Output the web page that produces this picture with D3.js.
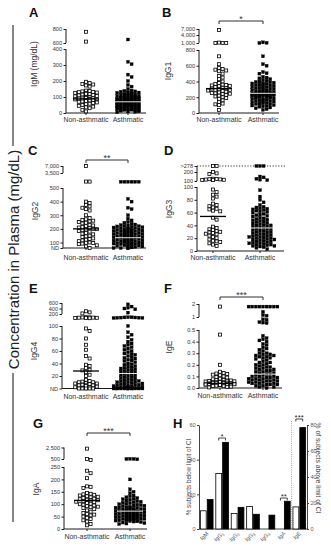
<!DOCTYPE html>
<html><head><meta charset="utf-8">
<script src="https://cdn.jsdelivr.net/npm/d3@7"></script>
<style>body{margin:0;background:#fff}svg{display:block;font-family:"Liberation Sans",Arial,sans-serif}</style>
</head><body><svg id="c" width="331" height="550"></svg>
<script>
const groups = ["Non-asthmatic", "Asthmatic"];

// A: IgM
const igmNon = [760,620,195,188,182,178,172,165,140,138,135,132,130,128,126,124,120,118,115,112,110,106,104,100,98,96,94,92,90,88,86,85,84,82,80,78,75,72,70,66,62,58,55,50,45,40,35,30,20,10];
const igmAst = [650,320,305,240,225,200,175,165,150,140,138,135,133,130,128,126,124,122,120,118,116,114,112,110,108,106,105,104,102,100,98,97,96,95,94,92,90,89,88,86,85,84,82,81,80,78,77,76,75,74,72,71,70,69,68,67,66,65,64,62,61,60,59,58,56,55,54,52,51,50,48,47,46,45,44,42,40,39,38,36,35,34,32,30,29,28,26,25,24,22,20,19,18,16,15,14,12,10,8,5];
const igmMed = [88, 70];
const igmTicksLow = [0,100,200,300,400], igmTicksHigh = [600,800];

// B: IgG1
const igg1Non = [6500,1150,1050,1000,980,720,620,570,560,550,540,530,500,470,450,430,400,380,370,360,355,350,345,340,330,320,315,310,300,295,290,285,280,270,260,255,250,245,240,230,220,210,200,190,180,160,140,120,110,100,40];
const igg1Ast = [1250,1050,1000,720,620,600,520,505,500,460,450,440,430,420,410,400,395,390,385,380,375,370,365,360,355,350,345,340,335,330,325,320,315,310,305,300,295,290,285,280,275,270,265,260,258,255,252,250,248,245,242,240,238,235,232,230,228,225,222,220,218,215,212,210,205,200,198,195,190,185,180,175,170,165,160,155,150,145,140,135,130,125,120,115,110,100,95,90,85,80,70,60,50,40];
const igg1Med = [310, 250];
const igg1TicksLow = [0,200,400,600,800], igg1TicksHigh = [1000,4000,7000];
const igg1Sig = "*";

// C: IgG2 (0 = ND)
const igg2Non = [7000,1500,1500,400,390,375,365,355,345,335,300,280,270,265,260,255,250,245,240,230,225,220,215,210,205,200,198,195,190,185,180,170,165,160,150,145,140,130,125,120,115,110,100,95,90,80,70,50,30,0];
const igg2Ast = [1450,1450,1450,1450,1450,1450,420,400,355,345,300,275,262,250,245,238,232,228,225,222,220,218,215,212,210,208,205,202,200,198,196,194,192,190,188,186,184,182,180,178,176,174,172,170,168,166,164,162,160,158,156,154,152,150,148,146,144,142,140,138,136,134,132,130,128,126,124,122,120,118,116,114,112,110,108,106,104,102,100,95,90,85,80,75,70,65,60,55,50,45,40,30,20,10,0,0,0,0];
const igg2Med = [200, 135];
const igg2TicksLow = [0,100,200,300,400,500], igg2TicksHigh = [3500,7000];
const igg2Sig = "**";

// D: IgG3 (278 = >278)
const igg3Non = [278,278,200,185,178,125,122,120,118,116,114,112,110,96,92,88,85,82,74,72,70,68,66,65,63,62,52,49,38,36,34,33,31,30,29,28,27,26,24,22,20,18,16,15,14,12,10,8];
const igg3Ast = [278,278,278,150,140,125,115,110,95,85,80,76,72,69,68,67,66,65,64,63,62,61,60,58,57,56,55,54,52,51,50,49,48,47,46,45,44,43,42,41,40,40,39,38,37,36,35,35,34,33,32,31,30,30,29,28,27,26,25,25,24,23,22,22,21,20,20,19,18,18,17,16,15,15,14,13,12,12,11,10,10,9,8,8,7,6,5,3];
const igg3Med = [54, 36];
const igg3TicksLow = [0,20,40,60,80,100], igg3TicksHigh = [100,200,278];

// E: IgG4 (0 = ND)
const igg4Non = [300,260,220,168,166,165,164,163,162,161,160,158,96,92,80,70,62,52,48,38,36,33,30,29,26,22,20,14,12,11,10,10,9,8,8,7,6,6,5,5,4,3,2,2,1,0,0,0,0,0];
const igg4Ast = [550,470,430,400,370,250,168,167,166,165,164,163,162,161,160,100,90,86,82,78,75,72,70,68,66,64,62,60,58,56,55,54,52,50,49,48,46,45,44,42,40,39,38,36,35,34,33,32,31,30,29,28,27,26,25,24,23,22,21,20,19,18,17,16,15,14,13,12,12,11,10,10,9,8,8,7,6,6,5,5,4,4,3,3,2,2,1,1,0,0,0,0,0,0,0,0,0,0,0,0];
const igg4Med = [28, 24];
const igg4TicksLow = [0,20,40,60,80,100], igg4TicksHigh = [200,400,600];

// F: IgE
const igeNon = [1.8,0.46,0.2,0.14,0.13,0.125,0.12,0.115,0.11,0.1,0.095,0.09,0.08,0.075,0.07,0.068,0.065,0.062,0.06,0.058,0.056,0.054,0.052,0.05,0.05,0.048,0.046,0.045,0.044,0.042,0.04,0.04,0.038,0.036,0.035,0.034,0.032,0.03,0.03,0.028,0.026,0.025,0.022,0.02,0.018,0.015,0.012,0.01,0.005];
const igeAst = [1.8,1.8,1.8,1.8,1.8,1.8,1.8,1.8,1.8,1.4,1.15,1.1,0.9,0.88,0.78,0.76,0.74,0.45,0.43,0.42,0.41,0.4,0.38,0.37,0.35,0.34,0.33,0.32,0.3,0.3,0.29,0.29,0.28,0.28,0.27,0.27,0.26,0.26,0.25,0.24,0.23,0.22,0.22,0.21,0.2,0.2,0.19,0.18,0.18,0.17,0.17,0.16,0.16,0.15,0.15,0.14,0.14,0.13,0.13,0.12,0.12,0.11,0.11,0.1,0.1,0.1,0.09,0.09,0.09,0.08,0.08,0.08,0.07,0.07,0.07,0.06,0.06,0.06,0.05,0.05,0.05,0.04,0.04,0.04,0.03,0.03,0.03,0.02,0.02,0.01,0.01,0.0];
const igeMed = [0.04, 0.12];
const igeTicksLow = [0,0.1,0.2,0.3,0.4,0.5], igeTicksHigh = [1,2];
const igeSig = "***";

// G: IgA
const igaNon = [2300,520,470,235,225,205,172,170,165,145,142,140,138,135,132,130,128,125,122,120,118,116,115,112,110,108,105,102,100,98,95,92,90,88,85,80,75,70,65,60,58,55,50,45,40,35,30,20,15];
const igaAst = [530,510,500,490,200,160,150,145,135,132,128,125,122,120,118,115,112,110,108,106,104,102,100,98,96,95,94,92,90,88,87,86,85,84,82,81,80,79,78,77,76,75,74,73,72,71,70,69,68,67,66,65,64,63,62,61,60,59,58,57,56,55,54,53,52,51,50,49,48,47,46,45,44,43,42,41,40,39,38,37,36,35,34,33,32,31,30,28,26,24,22,20];
const igaMed = [115, 72];
const igaTicksLow = [0,50,100,150,200,250], igaTicksHigh = [500,2500];
const igaSig = "***";

// H: % subjects outside CI
const hCats = ["IgM","IgG1","IgG2","IgG3","IgG4","IgA","IgE"];
const hNon = [10.5,32,9,13,0,0,17];
const hAst = [17,50,12.5,8.5,8,16,78];
const hAxisSide = ["L","L","L","L","L","L","R"];
const hTicksL = [0,20,40,60], hTicksR = [0,20,40,60,80];
const hSig = [{cat:"IgG1", s:"*"},{cat:"IgA", s:"**"},{cat:"IgE", s:"***"}];

const ink = "#1a1a1a", txt = "#333";
const svg = d3.select("#c");
const comma = d3.format(",");

svg.append("line").attr("x1",13).attr("x2",13).attr("y1",25).attr("y2",146).attr("stroke","#444").attr("stroke-width",1.3);
svg.append("line").attr("x1",13).attr("x2",13).attr("y1",373).attr("y2",522).attr("stroke","#444").attr("stroke-width",1.3);
svg.append("text").attr("transform","translate(18.5,259.5) rotate(-90)").attr("text-anchor","middle")
  .style("font-size","15px").attr("fill","#222").text("Concentration in Plasma (mg/dL)");

const panels = [
 {letter:"A", lx:29, ly:17, title:"IgM (mg/dL)", tx:37, ty:64, data:[igmNon,igmAst], med:igmMed, half:[14,15],
  ax:66, cx:[86,128], ex:146, catY:122,
  low:{d:[0,400], r:[113,49], t:igmTicksLow}, high:{d:[600,800], r:[43,29], t:igmTicksHigh}, fmt:comma},
 {letter:"B", lx:162, ly:17, title:"IgG1", tx:171, ty:71, data:[igg1Non,igg1Ast], med:igg1Med, half:[14,15],
  ax:199, cx:[219,263], ex:279, catY:122,
  low:{d:[0,800], r:[113,50], t:igg1TicksLow}, high:{d:[1000,4000,7000], r:[43,35,29], t:igg1TicksHigh}, fmt:comma,
  sig:{y:21, s:igg1Sig}},
 {letter:"C", lx:28, ly:155, title:"IgG2", tx:38, ty:211, data:[igg2Non,igg2Ast], med:igg2Med, half:[14,19],
  ax:63, cx:[86,128], ex:146, catY:259.5,
  low:{d:[0,100,500], r:[248,242.5,188], t:igg2TicksLow}, high:{d:[1400,3500,7000], r:[182,173,166], t:igg2TicksHigh},
  fmt:v=>v===0?"ND":comma(v), sig:{y:160, s:igg2Sig}},
 {letter:"D", lx:164, ly:155, title:"IgG3", tx:172, ty:209, data:[igg3Non,igg3Ast], med:igg3Med, half:[15,17],
  ax:197, cx:[213,260], ex:284, catY:259.5,
  low:{d:[0,100], r:[251,187], t:igg3TicksLow}, high:{d:[100,200,278], r:[181,172,166], t:igg3TicksHigh},
  fmt:v=>v===278?">278":comma(v), dotted:278},
 {letter:"E", lx:29, ly:293, title:"IgG4", tx:37, ty:351, data:[igg4Non,igg4Ast], med:igg4Med, half:[15,16],
  ax:62, cx:[86,128], ex:144, catY:398.5,
  low:{d:[0,100], r:[388.5,326], t:igg4TicksLow}, high:{d:[150,200,400,600], r:[319,314,308.5,303], t:igg4TicksHigh},
  fmt:v=>v===0?"ND":comma(v)},
 {letter:"F", lx:164, ly:293, title:"IgE", tx:172, ty:347, data:[igeNon,igeAst], med:igeMed, half:[17,16],
  ax:199, cx:[220,263], ex:282, catY:398,
  low:{d:[0,0.5], r:[388,330], t:igeTicksLow}, high:{d:[0.7,1,2], r:[324,317,304], t:igeTicksHigh},
  fmt:v=>v>=1?d3.format("d")(v):d3.format(".1f")(v), sig:{y:297, s:igeSig}},
 {letter:"G", lx:33, ly:428, title:"IgA", tx:39, ty:489, data:[igaNon,igaAst], med:igaMed, half:[15,17],
  ax:64, cx:[87,130], ex:147, catY:539,
  low:{d:[0,250], r:[529,467], t:igaTicksLow}, high:{d:[400,500,2500], r:[462,459,447.5], t:igaTicksHigh},
  fmt:comma, sig:{y:433, s:igaSig}}
];

function drawAxisSeg(g, scale, ticks, fmt, x){
  const a = d3.axisLeft(scale).tickValues(ticks).tickFormat(fmt).tickSize(2.5).tickPadding(1.5).tickSizeOuter(0);
  const ag = g.append("g").attr("transform",`translate(${x},0)`).call(a)
    .attr("font-family","'Liberation Sans',Arial,sans-serif").attr("font-size",5.6);
  ag.select(".domain").remove();
  ag.append("line").attr("x1",0).attr("x2",0).attr("y1",scale(ticks[0])).attr("y2",scale(ticks[ticks.length-1]))
    .attr("stroke",ink).attr("stroke-width",1);
  ag.selectAll(".tick line").attr("stroke",ink);
  ag.selectAll(".tick text").attr("fill",txt);
}

// beeswarm: nearest free slot within +-L, else the least-crowded slot
function swarm(values, cx, yf, s, vy, L){
  const ys = values.map(v=>yf(v)).sort((a,b)=>a-b);
  const placed = [];
  const steps = Math.floor(L/(s/2));
  const cands = [0]; for (let j=1;j<=steps;j++) cands.push(j,-j);
  ys.forEach(y=>{
    let best = cx, bestN = Infinity;
    for (const c of cands){
      const x = cx + c*s/2;
      let n = 0;
      for (const p of placed) if (Math.abs(p.x-x)<s*0.95 && Math.abs(p.y-y)<vy) n++;
      if (n===0){ best = x; bestN = 0; break; }
      if (n<bestN){ bestN = n; best = x; }
    }
    placed.push({x:best, y});
  });
  return placed;
}

panels.forEach(p=>{
  const g = svg.append("g");
  const lo = d3.scaleLinear().domain(p.low.d).range(p.low.r).clamp(true);
  const hi = d3.scaleLinear().domain(p.high.d).range(p.high.r).clamp(true);
  const loMax = p.low.d[p.low.d.length-1];
  const yf = v => v > loMax ? hi(v) : lo(v);
  const baseY = lo(0);

  g.append("text").attr("x",p.lx).attr("y",p.ly).style("font-size","13px").style("font-weight","bold").attr("fill","#111").text(p.letter);
  g.append("text").attr("transform",`translate(${p.tx},${p.ty}) rotate(-90)`).attr("text-anchor","middle")
    .style("font-size","8.5px").attr("fill",txt).text(p.title);

  drawAxisSeg(g, lo, p.low.t, p.fmt, p.ax);
  drawAxisSeg(g, hi, p.high.t, p.fmt, p.ax);

  if (p.dotted!==undefined){
    g.append("line").attr("x1",p.ax).attr("x2",p.ex+2).attr("y1",hi(p.dotted)).attr("y2",hi(p.dotted))
      .attr("stroke",ink).attr("stroke-width",0.9).attr("stroke-dasharray","1.2,1.6");
  }
  g.append("line").attr("x1",p.ax).attr("x2",p.ex).attr("y1",baseY).attr("y2",baseY).attr("stroke",ink).attr("stroke-width",1);
  p.cx.forEach((c,i)=>{
    g.append("line").attr("x1",c).attr("x2",c).attr("y1",baseY).attr("y2",baseY+2).attr("stroke",ink);
    g.append("text").attr("x",c).attr("y",p.catY).attr("text-anchor","middle").style("font-size","7px").attr("fill",txt).text(groups[i]);
  });

  p.data.forEach((vals,gi)=>{
    const pts = swarm(vals, p.cx[gi], yf, 3.6, 3.0, p.half[gi]-1.5);
    g.selectAll(null).data(pts).join("rect")
      .attr("x",d=>d.x-1.5).attr("y",d=>d.y-1.5).attr("width",3).attr("height",3)
      .attr("fill",gi===0?"#fff":"#000").attr("stroke","#000").attr("stroke-width",gi===0?0.8:0.3);
  });
  p.med.forEach((m,gi)=>{
    g.append("line").attr("x1",p.cx[gi]-13).attr("x2",p.cx[gi]+13).attr("y1",yf(m)).attr("y2",yf(m))
      .attr("stroke",gi===0?"#000":"#fff").attr("stroke-width",gi===0?1.3:0.9);
  });
  if (p.sig){
    const y = p.sig.y;
    g.append("path").attr("d",`M${p.cx[0]},${y+3}V${y}H${p.cx[1]}V${y+3}`).attr("fill","none").attr("stroke",ink).attr("stroke-width",0.9);
    g.append("text").attr("x",(p.cx[0]+p.cx[1])/2).attr("y",y+0.5).attr("text-anchor","middle").style("font-size","9px").attr("fill",txt).text(p.sig.s);
  }
});

// Panel H
(function(){
  const g = svg.append("g");
  const x0 = 199, x1 = 307, yb = 529;
  const x = d3.scaleBand().domain(hCats).range([x0,x1]);
  const xs = d3.scaleBand().domain(["non","ast"]).range([0,x.bandwidth()]).paddingInner(0.15).paddingOuter(0.2);
  const yL = d3.scaleLinear().domain([0,60]).range([yb,425]);
  const yR = d3.scaleLinear().domain([0,80]).range([yb,425]);
  g.append("text").attr("x",173).attr("y",428).style("font-size","13px").style("font-weight","bold").attr("fill","#111").text("H");

  const aL = g.append("g").attr("transform",`translate(${x0},0)`).call(d3.axisLeft(yL).tickValues(hTicksL).tickSize(2).tickPadding(1.5).tickSizeOuter(0))
    .attr("font-family","'Liberation Sans',Arial,sans-serif").attr("font-size",5.5);
  const aR = g.append("g").attr("transform",`translate(${x1},0)`).call(d3.axisRight(yR).tickValues(hTicksR).tickSize(2).tickPadding(1.5).tickSizeOuter(0))
    .attr("font-family","'Liberation Sans',Arial,sans-serif").attr("font-size",5.5);
  [aL,aR].forEach(a=>{a.selectAll("text").attr("fill","#555"); a.selectAll("line,path").attr("stroke","#444");});
  g.append("line").attr("x1",x0).attr("x2",x1).attr("y1",yb).attr("y2",yb).attr("stroke","#444");

  g.append("line").attr("x1",x("IgE")).attr("x2",x("IgE")).attr("y1",421).attr("y2",yb)
    .attr("stroke","#888").attr("stroke-width",0.8).attr("stroke-dasharray","1,1.2");

  hCats.forEach((c,i)=>{
    const ys = hAxisSide[i]==="R" ? yR : yL;
    [["non",hNon[i]],["ast",hAst[i]]].forEach(([k,v])=>{
      if (v<=0) return;
      g.append("rect").attr("x",x(c)+xs(k)).attr("width",xs.bandwidth()).attr("y",ys(v)).attr("height",yb-ys(v))
        .attr("fill",k==="non"?"#fff":"#000").attr("stroke","#000").attr("stroke-width",0.8);
    });
    const t = g.append("text").attr("transform",`translate(${x(c)+x.bandwidth()/2+2},${yb+5}) rotate(-45)`)
      .attr("text-anchor","end").style("font-size","5.5px").attr("fill","#555");
    const m = c.match(/^(IgG)(\d)$/);
    if (m){ t.append("tspan").text(m[1]); t.append("tspan").attr("font-size","4px").attr("dy",1).text(m[2]); }
    else t.text(c);
  });

  const sigY = {IgG1:438, IgA:498, IgE:419};
  hSig.forEach(s=>{
    const c0 = x(s.cat)+xs("non")+xs.bandwidth()/2, c1 = x(s.cat)+xs("ast")+xs.bandwidth()/2, y = sigY[s.cat];
    g.append("path").attr("d",`M${c0},${y+2.5}V${y}H${c1}V${y+2.5}`).attr("fill","none").attr("stroke",ink).attr("stroke-width",0.8);
    g.append("text").attr("x",(c0+c1)/2).attr("y",y+0.5).attr("text-anchor","middle").style("font-size","8px").attr("fill",txt).text(s.s);
  });

  g.append("text").attr("transform","translate(191,477) rotate(-90)").attr("text-anchor","middle")
    .style("font-size","6.3px").attr("fill","#444").text("% subjects below limit of CI");
  g.append("text").attr("transform","translate(316,468) rotate(90)").attr("text-anchor","middle")
    .style("font-size","6.8px").attr("fill","#444").text("% of subjects above limit of CI");
})();
</script></body></html>
